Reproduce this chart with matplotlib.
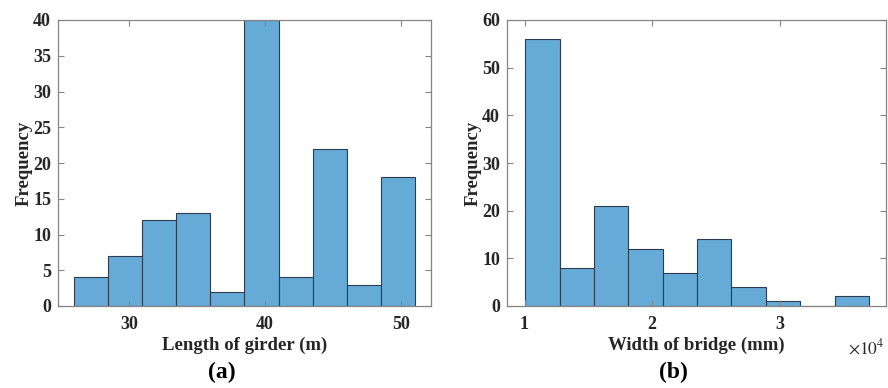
import matplotlib
matplotlib.use("Agg")
import matplotlib.pyplot as plt
import numpy as np

# Panel (a): Length of girder (m)
girder_edges = [26.0, 28.5, 31.0, 33.5, 36.0, 38.5, 41.0, 43.5, 46.0, 48.5, 51.0]
girder_counts = [4, 7, 12, 13, 2, 40, 4, 22, 3, 18]
girder_xticks = [30, 40, 50]
girder_yticks = [0, 5, 10, 15, 20, 25, 30, 35, 40]

# Panel (b): Width of bridge (mm), in units of 1e4
width_edges = [1.005, 1.274, 1.543, 1.812, 2.081, 2.351, 2.620, 2.889, 3.158, 3.427, 3.696]
width_counts = [56, 8, 21, 12, 7, 14, 4, 1, 0, 2]
width_xticks = [1, 2, 3]
width_yticks = [0, 10, 20, 30, 40, 50, 60]

face = "#66aad7"
edge = "#2e3d4d"
spine = "#858585"
serif = ["Liberation Serif", "DejaVu Serif"]
txt = "#262626"

fig = plt.figure(figsize=(8.88, 3.88), dpi=100)

def style(ax):
    for s in ax.spines.values():
        s.set_color(spine)
        s.set_linewidth(0.9)
    ax.tick_params(direction="in", top=True, right=True, length=4,
                   color=spine, width=0.8)
    ax.tick_params(axis="x", pad=7)
    ax.tick_params(axis="y", pad=5)
    for lab in ax.get_xticklabels() + ax.get_yticklabels():
        lab.set_fontfamily(serif)
        lab.set_fontweight("bold")
        lab.set_fontsize(13)
        lab.set_color(txt)

ax1 = fig.add_axes([58/888, 1-306/388, (431-58)/888, (306-20)/388])
ax1.hist(girder_edges[:-1], bins=girder_edges, weights=girder_counts,
         color=face, edgecolor=edge, linewidth=0.8)
ax1.set_xlim(24.8, 52.2)
ax1.set_ylim(0, 40)
ax1.set_xticks(girder_xticks)
ax1.set_yticks(girder_yticks)
style(ax1)
ax1.set_xlabel("Length of girder (m)", fontfamily=serif, fontweight="bold",
               fontsize=13.5, color=txt, labelpad=3)
ax1.set_ylabel("Frequency", fontfamily=serif, fontweight="bold",
               fontsize=13.5, color=txt, labelpad=0.5)

ax2 = fig.add_axes([507/888, 1-306/388, (886-507)/888, (306-20)/388])
ax2.hist(width_edges[:-1], bins=width_edges, weights=width_counts,
         color=face, edgecolor=edge, linewidth=0.8)
ax2.set_xlim(0.863, 3.83)
ax2.set_ylim(0, 60)
ax2.set_xticks(width_xticks)
ax2.set_yticks(width_yticks)
style(ax2)
ax2.set_xlabel("Width of bridge (mm)", fontfamily=serif, fontweight="bold",
               fontsize=13.5, color=txt, labelpad=3)
ax2.set_ylabel("Frequency", fontfamily=serif, fontweight="bold",
               fontsize=13.5, color=txt, labelpad=0.5)

fig.text(866/888, 1-348/388, r"$\times10^{4}$", ha="center", va="center",
         fontsize=12.5, color=txt, family=serif, math_fontfamily="stix")

fig.text(222/888, 1-372/388, "(a)", ha="center", va="center",
         fontsize=17, family=serif, fontweight="bold", color="black")
fig.text(673/888, 1-372/388, "(b)", ha="center", va="center",
         fontsize=17, family=serif, fontweight="bold", color="black")

fig.savefig("out.png", dpi=100)
